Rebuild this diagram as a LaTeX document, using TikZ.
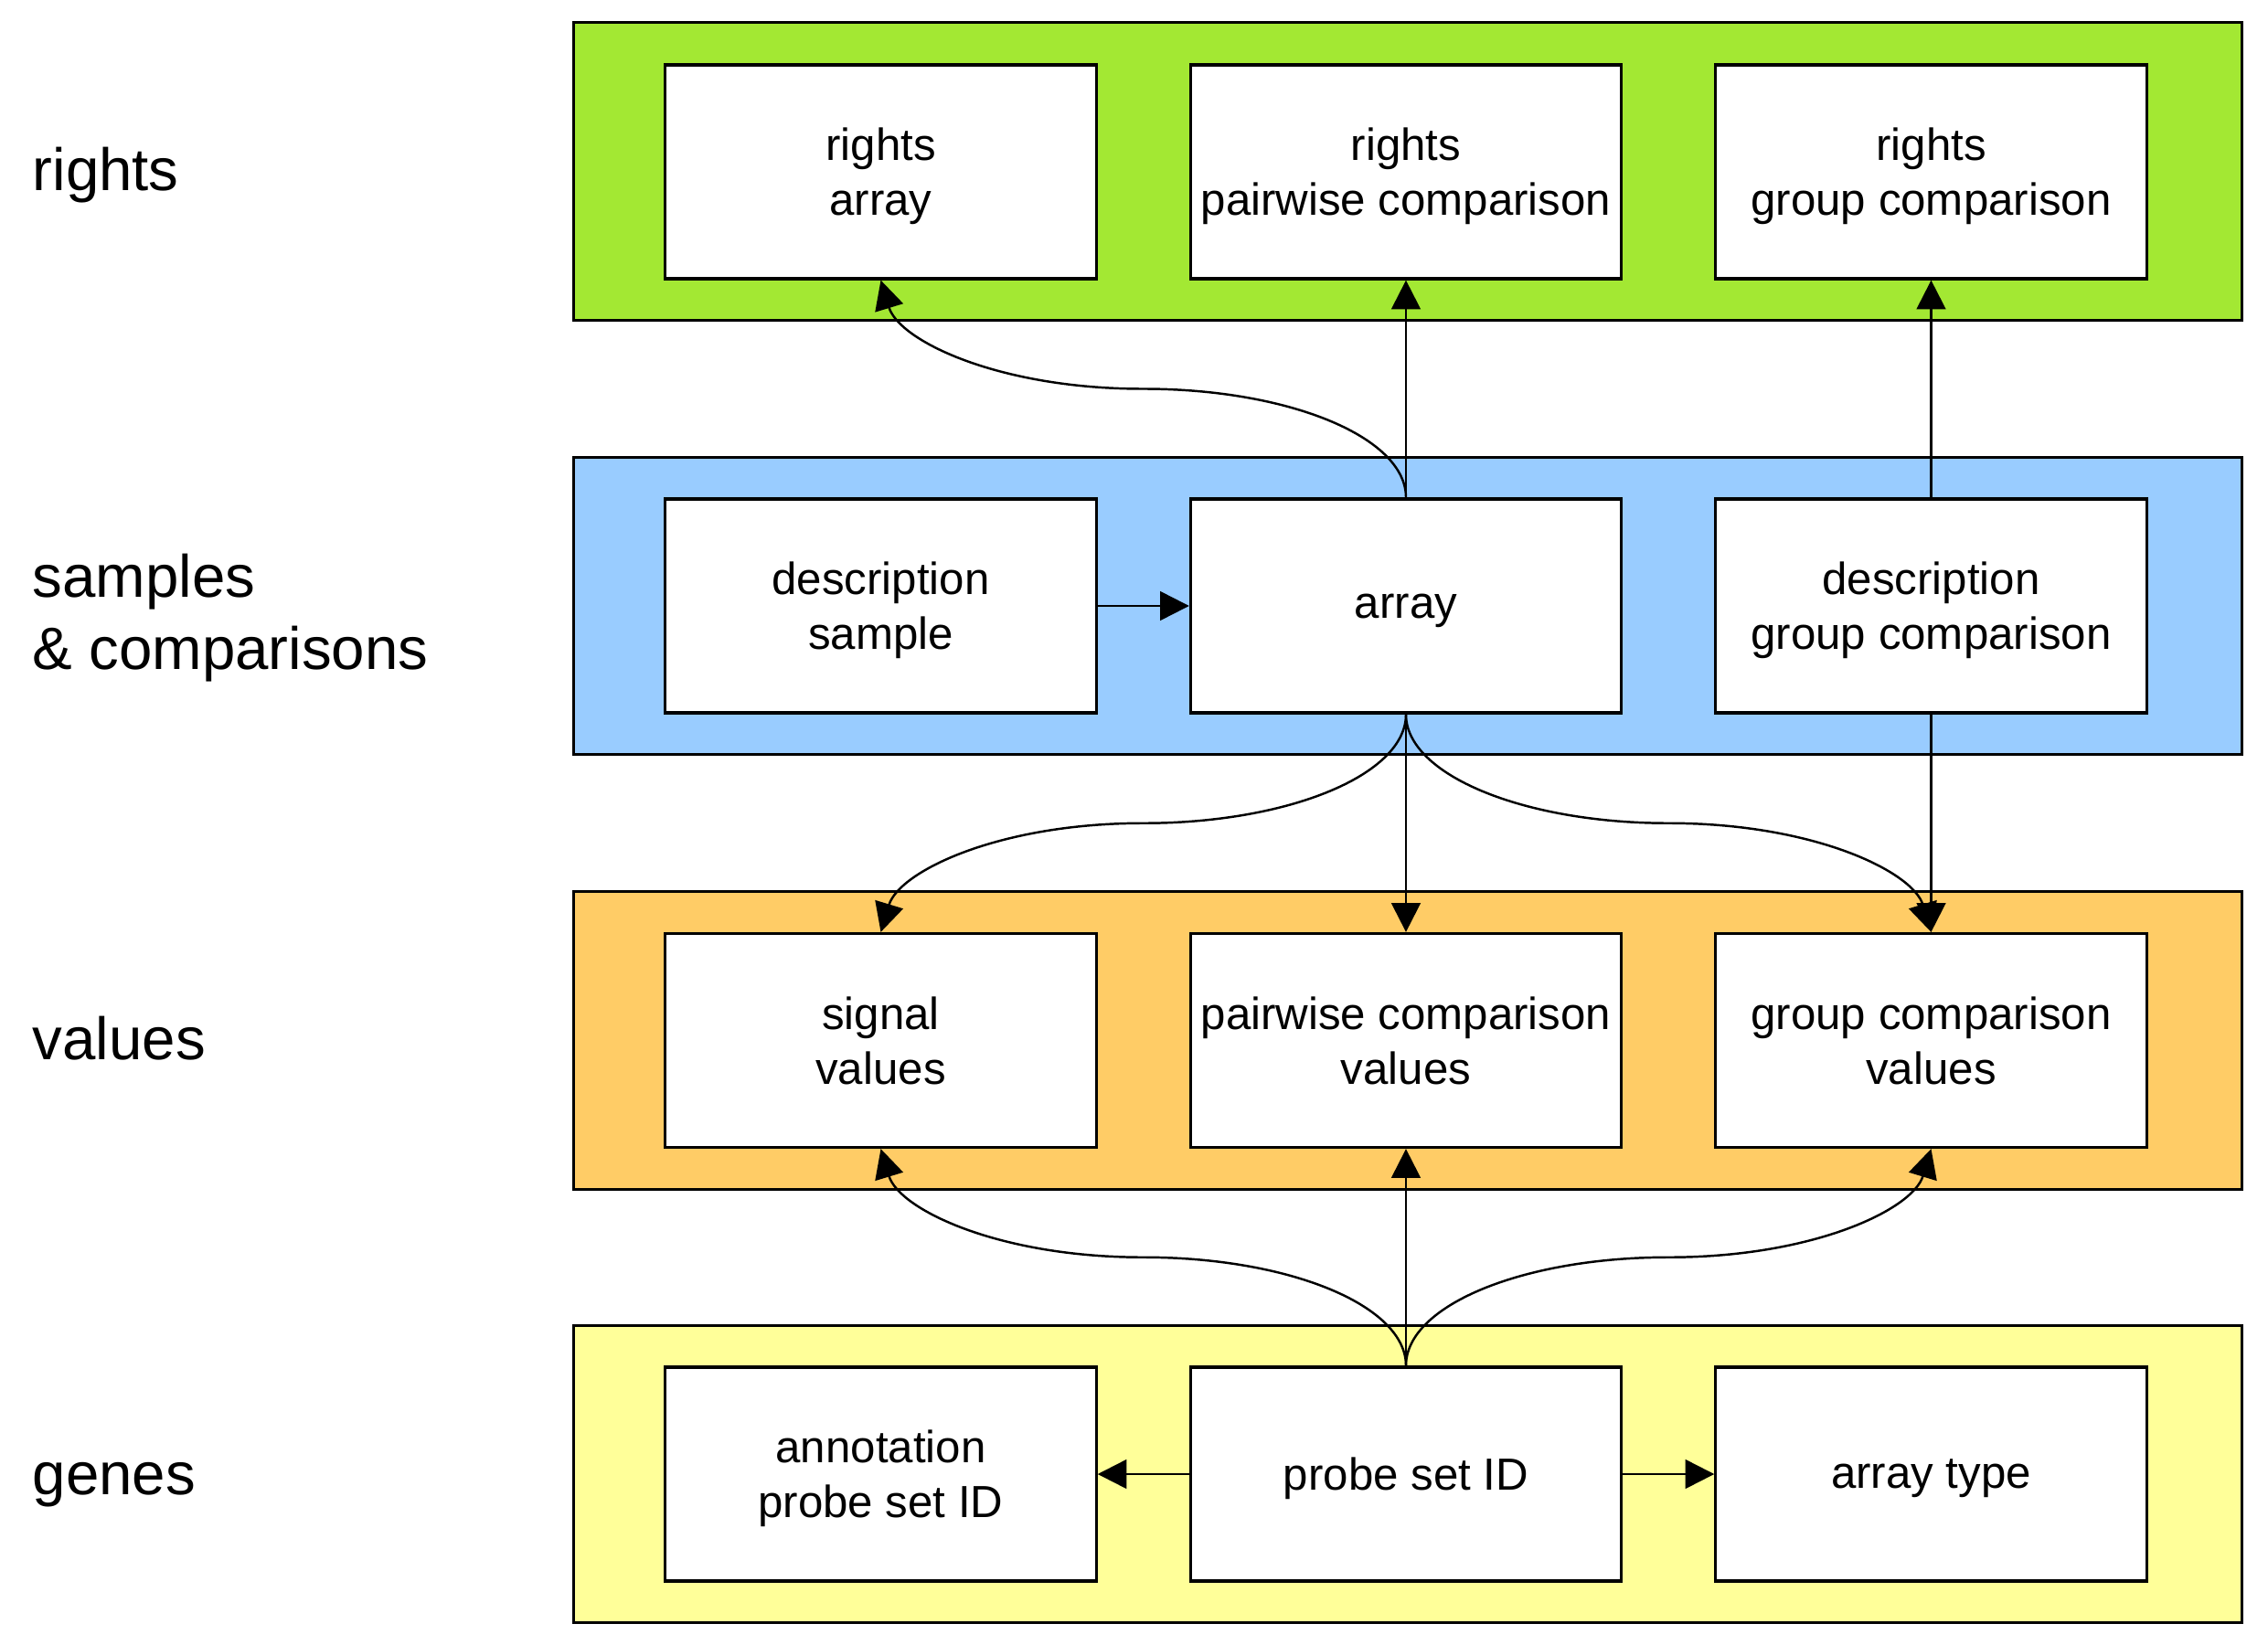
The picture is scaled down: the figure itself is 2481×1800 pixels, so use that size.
\documentclass[tikz,border=0pt]{standalone}
\usepackage{fontspec}
\setmainfont{Liberation Sans}
\usetikzlibrary{arrows.meta,calc}
\definecolor{rightsgreen}{HTML}{A3E833}
\definecolor{samplesblue}{HTML}{99CCFF}
\definecolor{valuesorange}{HTML}{FFCC66}
\definecolor{genesyellow}{HTML}{FFFF99}

\begin{document}
\begin{tikzpicture}[x=0.01cm,y=-0.01cm,
  band/.style={draw,line width=0.9pt,minimum width=18.24cm,minimum height=3.25cm,inner sep=0pt},
  box/.style={draw,fill=white,line width=0.9pt,minimum width=4.71cm,minimum height=2.34cm,inner sep=0pt,align=center,
    text depth=0pt,font=\fontsize{14}{17}\selectfont},
  layer/.style={anchor=west,align=left,inner sep=0pt,font=\fontsize{18.6}{22.4}\selectfont},
  link/.style={-{Triangle[length=9pt,width=9pt]},line width=0.7pt}]
\useasboundingbox (0,0) rectangle (2481,1800);

% layers
\node[band,fill=rightsgreen] (rightsband) at (1540,187.5) {};
\node[band,fill=samplesblue] (samplesband) at (1540,663) {};
\node[band,fill=valuesorange] (valuesband) at (1540,1138.5) {};
\node[band,fill=genesyellow] (genesband) at (1540,1613) {};

\node[layer] (lrights) at (35,192) {rights};
\node[layer] (lsamples) at (35,676) {samples\\\& comparisons};
\node[layer] (lvalues) at (35,1136) {values};
\node[layer] (lgenes) at (35,1625) {genes};

% tables
\node[box] (rarr) at (963.5,188) {rights\\array};
\node[box] (rpw) at (1538,188) {rights\\pairwise comparison};
\node[box] (rgc) at (2112.5,188) {rights\\group comparison};
\node[box] (dsample) at (963.5,663) {description\\sample};
\node[box] (arr) at (1538,663) {array};
\node[box] (dgc) at (2112.5,663) {description\\group comparison};
\node[box] (sigval) at (963.5,1138.5) {signal\\values};
\node[box] (pwval) at (1538,1138.5) {pairwise comparison\\values};
\node[box] (gcval) at (2112.5,1138.5) {group comparison\\values};
\node[box] (annot) at (963.5,1613) {annotation\\probe set ID};
\node[box] (probe) at (1538,1613) {probe set ID};
\node[box] (atype) at (2112.5,1613) {array type};

% links
\draw[link] (arr.north) -- (rpw.south);
\draw[link] (dgc.north) -- (rgc.south);
\draw[link] (dsample.east) -- (arr.west);
\draw[link] (arr.south) -- (pwval.north);
\draw[link] (dgc.south) -- (gcval.north);
\draw[link] (probe.north) -- (pwval.south);
\draw[link] (probe.west) -- (annot.east);
\draw[link] (probe.east) -- (atype.west);

\draw[link] (arr.north) .. controls +(0,-66) and +(159,0) .. ($(arr.north)!0.5!(rarr.south)$)
  .. controls +(-159,0) and +(20,66) .. (rarr.south);
\draw[link] (arr.south) .. controls +(0,66) and +(159,0) .. ($(arr.south)!0.5!(sigval.north)$)
  .. controls +(-159,0) and +(20,-66) .. (sigval.north);
\draw[link] (arr.south) .. controls +(0,66) and +(-159,0) .. ($(arr.south)!0.5!(gcval.north)$)
  .. controls +(159,0) and +(-20,-66) .. (gcval.north);
\draw[link] (probe.north) .. controls +(0,-66) and +(159,0) .. ($(probe.north)!0.5!(sigval.south)$)
  .. controls +(-159,0) and +(20,66) .. (sigval.south);
\draw[link] (probe.north) .. controls +(0,-66) and +(-159,0) .. ($(probe.north)!0.5!(gcval.south)$)
  .. controls +(159,0) and +(-20,66) .. (gcval.south);
\end{tikzpicture}
\end{document}
